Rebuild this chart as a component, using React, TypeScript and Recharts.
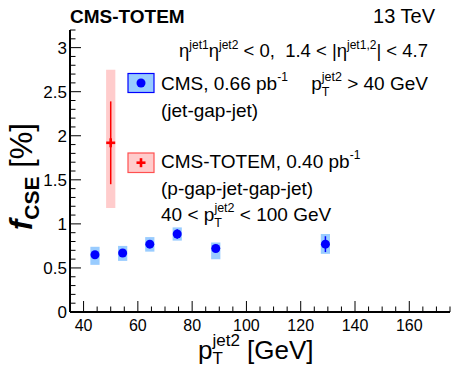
import React from "react";
import { ComposedChart, ErrorBar, ReferenceArea, Scatter, XAxis, YAxis } from "recharts";

// CMS jet-gap-jet points
const cmsPt = [44.2, 54.4, 64.4, 74.5, 88.7, 129.1];
const cmsFrac = [0.65, 0.67, 0.77, 0.885, 0.72, 0.77];
const cmsStat = [0.04, 0.04, 0.04, 0.055, 0.04, 0.09];
const cmsSysLo = [0.535, 0.58, 0.685, 0.81, 0.6, 0.66];
const cmsSysHi = [0.74, 0.75, 0.85, 0.96, 0.79, 0.885];

// CMS-TOTEM p-gap-jet-gap-jet point
const totemPt = [50];
const totemFrac = [1.92];
const totemStat = [0.47];
const totemSysLo = [1.18];
const totemSysHi = [2.75];

const boxHalfWidth = 1.7;

const xMajor = [40, 60, 80, 100, 120, 140, 160];
const yMajor = [0, 0.5, 1, 1.5, 2, 2.5, 3];
const xDomain = [35, 175];
const yDomain = [0, 3.2];

const xMinor: number[] = [];
for (let v = 35; v <= 175; v += 5) xMinor.push(v);
const yMinor: number[] = [];
for (let i = 0; i <= 32; i++) yMinor.push(i / 10);

const cmsData = cmsPt.map((x, i) => ({ x, y: cmsFrac[i], err: cmsStat[i] }));
const totemData = totemPt.map((x, i) => ({ x, y: totemFrac[i], err: totemStat[i] }));

const FONT = "'Liberation Sans', Arial, Helvetica, sans-serif";
const BLUE = "#0000ff";
const LIGHT_BLUE = "#99ccff";
const RED = "#ff0000";
const PINK = "#ffcccc";

const isMajor = (v: number, list: number[]) => list.some((m) => Math.abs(m - v) < 1e-6);

const LeftTick = (props: any) => {
    const { x, y, payload } = props;
    const major = isMajor(payload.value, yMajor);
    return (
        <g>
            <line x1={x} x2={x + (major ? 11 : 5.5)} y1={y} y2={y} stroke="#000" strokeWidth={1} />
            {major && (
                <text x={x - 3} y={y} dy="0.36em" textAnchor="end" fontSize={17} fontFamily={FONT} fill="#000">
                    {String(payload.value)}
                </text>
            )}
        </g>
    );
};

const RightTick = (props: any) => {
    const { x, y, payload } = props;
    const major = isMajor(payload.value, yMajor);
    return <line x1={x} x2={x - (major ? 11 : 5.5)} y1={y} y2={y} stroke="#000" strokeWidth={1} />;
};

const BottomTick = (props: any) => {
    const { x, y, payload } = props;
    const major = isMajor(payload.value, xMajor);
    return (
        <g>
            <line x1={x} x2={x} y1={y} y2={y - (major ? 11 : 5.5)} stroke="#000" strokeWidth={1} />
            {major && (
                <text x={x} y={y + 18.5} textAnchor="middle" fontSize={16} fontFamily={FONT} fill="#000">
                    {String(payload.value)}
                </text>
            )}
        </g>
    );
};

const TopTick = (props: any) => {
    const { x, y, payload } = props;
    const major = isMajor(payload.value, xMajor);
    return <line x1={x} x2={x} y1={y} y2={y + (major ? 11 : 5.5)} stroke="#000" strokeWidth={1} />;
};

const Dot = (props: any) => <circle cx={props.cx} cy={props.cy} r={4.5} fill={BLUE} />;

const Plus = (props: any) => (
    <g fill={RED}>
        <rect x={props.cx - 4.5} y={props.cy - 1.3} width={9} height={2.6} />
        <rect x={props.cx - 1.3} y={props.cy - 4.5} width={2.6} height={9} />
    </g>
);

const frame = { stroke: "#000", strokeWidth: 2 };

export default function App() {
    return (
        <div style={{ position: "relative", width: 451, height: 368, fontFamily: FONT }}>
            <style>{"body{margin:0}"}</style>
            <ComposedChart width={451} height={368} margin={{ top: 30, right: 1, bottom: 0, left: 0 }}>
                <XAxis
                    dataKey="x"
                    type="number"
                    domain={xDomain}
                    ticks={xMinor}
                    interval={0}
                    height={56}
                    tickSize={0}
                    tickMargin={0}
                    tickLine={false}
                    axisLine={frame}
                    tick={BottomTick}
                />
                <XAxis
                    xAxisId="top"
                    dataKey="x"
                    type="number"
                    orientation="top"
                    domain={xDomain}
                    ticks={xMinor}
                    interval={0}
                    height={0}
                    tickSize={0}
                    tickMargin={0}
                    tickLine={false}
                    axisLine={frame}
                    tick={TopTick}
                />
                <YAxis
                    dataKey="y"
                    type="number"
                    domain={yDomain}
                    ticks={yMinor}
                    interval={0}
                    width={70}
                    tickSize={0}
                    tickMargin={0}
                    tickLine={false}
                    axisLine={frame}
                    tick={LeftTick}
                />
                <YAxis
                    yAxisId="right"
                    dataKey="y"
                    type="number"
                    orientation="right"
                    domain={yDomain}
                    ticks={yMinor}
                    interval={0}
                    width={0}
                    tickSize={0}
                    tickMargin={0}
                    tickLine={false}
                    axisLine={frame}
                    tick={RightTick}
                />
                {cmsPt.map((x, i) => (
                    <ReferenceArea
                        key={"cs" + i}
                        x1={x - boxHalfWidth}
                        x2={x + boxHalfWidth}
                        y1={cmsSysLo[i]}
                        y2={cmsSysHi[i]}
                        fill={LIGHT_BLUE}
                        fillOpacity={1}
                        stroke="none"
                    />
                ))}
                {totemPt.map((x, i) => (
                    <ReferenceArea
                        key={"ts" + i}
                        x1={x - boxHalfWidth}
                        x2={x + boxHalfWidth}
                        y1={totemSysLo[i]}
                        y2={totemSysHi[i]}
                        fill={PINK}
                        fillOpacity={1}
                        stroke="none"
                    />
                ))}
                <Scatter data={cmsData} dataKey="y" shape={Dot} isAnimationActive={false}>
                    <ErrorBar dataKey="err" direction="y" width={0} stroke={BLUE} strokeWidth={1.5} />
                </Scatter>
                <Scatter data={totemData} dataKey="y" shape={Plus} isAnimationActive={false}>
                    <ErrorBar dataKey="err" direction="y" width={0} stroke={RED} strokeWidth={1.5} />
                </Scatter>
            </ComposedChart>
            <svg
                width={451}
                height={368}
                style={{ position: "absolute", left: 0, top: 0, pointerEvents: "none" }}
                fontFamily={FONT}
                fill="#000"
            >
                <text x={70} y={23} fontSize={19} fontWeight="bold">CMS-TOTEM</text>
                <text x={435} y={23} fontSize={20} textAnchor="end">13 TeV</text>

                <text x={428} y={57} fontSize={18.5} textAnchor="end" style={{ whiteSpace: "pre" }}>
                    η<tspan fontSize={12} dy={-8}>jet1</tspan>
                    <tspan dy={8}>η</tspan>
                    <tspan fontSize={12} dy={-8}>jet2</tspan>
                    <tspan dy={8}>{" < 0,  1.4 < |η"}</tspan>
                    <tspan fontSize={12} dy={-8}>jet1,2</tspan>
                    <tspan dy={8}>{"| < 4.7"}</tspan>
                </text>

                <rect x={128} y={73.5} width={26} height={19} fill={LIGHT_BLUE} stroke={BLUE} strokeWidth={1.2} />
                <circle cx={141} cy={83} r={4.5} fill={BLUE} />
                <text x={161} y={90} fontSize={19} style={{ whiteSpace: "pre" }}>
                    CMS, 0.66 pb<tspan fontSize={12} dy={-9}>-1</tspan>
                </text>
                <text x={428} y={90} fontSize={19} textAnchor="end" style={{ whiteSpace: "pre" }}>
                    p<tspan fontSize={12.5} dy={6}>T</tspan>
                    <tspan fontSize={12.5} dx={-7.6} dy={-15}>jet2</tspan>
                    <tspan dy={9}>{" > 40 GeV"}</tspan>
                </text>
                <text x={161} y={116.7} fontSize={19}>(jet-gap-jet)</text>

                <rect x={128} y={153} width={26} height={19.5} fill={PINK} stroke="#ff5050" strokeWidth={1.2} />
                <rect x={136.5} y={161.4} width={9} height={2.6} fill={RED} />
                <rect x={139.7} y={158.2} width={2.6} height={9} fill={RED} />
                <text x={161} y={168.3} fontSize={19} style={{ whiteSpace: "pre" }}>
                    CMS-TOTEM, 0.40 pb<tspan fontSize={12} dy={-9}>-1</tspan>
                </text>
                <text x={161} y={195} fontSize={19}>(p-gap-jet-gap-jet)</text>
                <text x={161} y={221} fontSize={19} style={{ whiteSpace: "pre" }}>
                    {"40 < p"}
                    <tspan fontSize={12.5} dy={6}>T</tspan>
                    <tspan fontSize={12.5} dx={-7.6} dy={-15}>jet2</tspan>
                    <tspan dy={9}>{" < 100 GeV"}</tspan>
                </text>

                <text x={198} y={359} fontSize={26} style={{ whiteSpace: "pre" }}>
                    p<tspan fontSize={17} dy={5}>T</tspan>
                    <tspan fontSize={17} dx={-10.4} dy={-18}>jet2</tspan>
                    <tspan dy={13}>{" [GeV]"}</tspan>
                </text>

                <text transform="translate(32, 230) rotate(-90)" fontSize={31} style={{ whiteSpace: "pre" }}>
                    <tspan fontStyle="italic" fontWeight="bold">f</tspan>
                    <tspan fontSize={21} fontWeight="bold" dy={7}>CSE</tspan>
                    <tspan dy={-7}>{" [%]"}</tspan>
                </text>
            </svg>
        </div>
    );
}
